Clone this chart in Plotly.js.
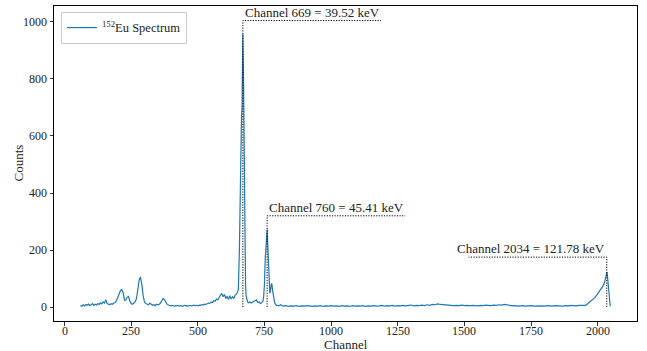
<!DOCTYPE html>
<html>
<head>
<meta charset="utf-8">
<script src="https://cdn.plot.ly/plotly-3.0.1.min.js"></script>
<style>html,body{margin:0;padding:0;background:#fff;}#chart{width:647px;height:351px;}</style>
</head>
<body>
<div id="chart"></div>
<script>
// Spectrum channels and counts
var channels = [
60,65,70,75,80,85,90,95,100,105,110,115,120,125,130,135,140,145,150,155,160,165,170,175,180,185,190,195,200,205,210,215,220,225,230,235,240,245,250,255,260,265,270,275,280,285,290,295,300,305,310,315,320,325,330,335,340,345,350,355,360,365,370,375,380,385,390,395,400,405,410,415,420,425,430,435,440,445,450,455,460,465,470,475,480,485,490,495,500,505,510,515,520,525,530,535,540,545,550,555,560,565,570,575,580,585,590,595,600,605,610,615,620,625,630,635,640,
645,648,652,656,659,662,664,666,668,669,671,673,675,677,679,681,684,687,690,695,700,705,710,715,720,725,730,735,740,744,747,750,753,756,758,760,762,764,766,768,770,772,774,776,778,780,782,785,788,792,796,800,805,810,815,
820,830,840,850,860,870,880,890,900,910,920,930,940,950,960,970,980,990,1000,1010,1020,1030,1040,1050,1060,1070,1080,1090,1100,1110,1120,1130,1140,1150,1160,1170,1180,1190,1200,1210,1220,1230,1240,1250,1260,1270,1280,1290,1300,1310,1320,1330,1340,1350,1360,1370,1380,1390,1400,1410,1420,1430,1440,1450,1460,1470,1480,1490,1500,1510,1520,1530,1540,1550,1560,1570,1580,1590,1600,1610,1620,1630,1640,1650,1660,1670,1680,1690,1700,1710,1720,1730,1740,1750,1760,1770,1780,1790,1800,1810,1820,1830,1840,1850,1860,1870,1880,1890,1900,1910,1920,1930,1940,
1950,1955,1960,1965,1970,1975,1980,1985,1990,1995,2000,2005,2010,2015,2020,2025,2029,2032,2035,2037,2039,2041,2043,2045,2047
];
var counts = [
5,3,8,4,9,6,10,5,8,12,6,10,7,12,9,15,11,18,14,26,12,10,8,12,10,14,16,22,35,48,58,61,50,24,25,34,37,22,12,10,14,18,30,62,95,105,80,40,18,12,10,8,14,10,6,8,5,10,8,10,14,22,30,26,16,10,7,5,4,6,3,5,4,6,3,5,4,3,6,4,5,3,6,4,5,7,5,6,4,7,6,8,7,10,9,12,14,13,18,16,22,20,28,25,35,42,48,36,44,30,38,26,40,28,36,30,42,
45,50,60,200,450,640,670,700,900,958,850,600,350,170,80,40,25,18,15,18,14,17,20,22,25,16,18,12,15,20,35,80,170,240,265,272,230,160,100,60,48,55,70,82,80,62,45,30,16,9,5,6,4,8,5,
3,5,2,4,3,5,2,4,3,5,3,2,4,3,5,2,4,3,5,3,4,2,5,3,4,2,5,3,4,3,5,2,4,3,5,3,4,6,3,5,4,6,3,5,4,6,4,5,7,4,6,5,7,5,8,6,9,8,11,9,8,7,6,7,5,6,5,7,5,6,4,6,5,4,6,5,7,6,5,7,6,8,7,9,7,5,4,5,3,4,5,3,4,5,3,4,5,4,3,5,4,3,5,4,5,3,5,4,6,5,4,6,5,
4,6,10,14,18,20,24,28,34,40,46,54,60,66,74,85,100,112,123,105,80,55,32,15,3
];
// Peak markers
var peakChannels = [669, 760, 2034];
var peakEnergies = ["39.52", "45.41", "121.78"];
var markerHeights = [1005, 320, 175];
var markerSpan = 518;
var markerLeftward = [false, false, true];
var xTicks = [0, 250, 500, 750, 1000, 1250, 1500, 1750, 2000];
var yTicks = [0, 200, 400, 600, 800, 1000];

var font = "Liberation Serif, Times New Roman, serif";
var traces = [{
  x: channels, y: counts, type: "scatter", mode: "lines",
  name: "<sup>152</sup>Eu Spectrum",
  line: {color: "#1f77b4", width: 1.2}
}];
var annotations = [];
for (var i = 0; i < peakChannels.length; i++) {
  var c = peakChannels[i], h = markerHeights[i];
  var x2 = markerLeftward[i] ? c - markerSpan : c + markerSpan;
  traces.push({
    x: [c, c, x2], y: [0, h, h], type: "scatter", mode: "lines",
    showlegend: false, hoverinfo: "skip",
    line: {color: "#000", width: 1, dash: "1.2px,1.4px"}
  });
  annotations.push({
    x: c, y: h, xref: "x", yref: "y",
    text: "Channel " + c + " = " + peakEnergies[i] + " keV",
    showarrow: false,
    xanchor: markerLeftward[i] ? "right" : "left",
    yanchor: "bottom", yshift: -1,
    font: {family: font, size: 13, color: "#222"}
  });
}
// X tick labels placed under the axis
xTicks.forEach(function (t) {
  annotations.push({
    x: t, y: 0, xref: "x", yref: "paper", xanchor: "center", yanchor: "middle",
    yshift: -9.5, height: 12, showarrow: false, text: String(t), borderpad: 0,
    font: {family: font, size: 12, color: "#222"}
  });
});
// Axis titles
annotations.push({
  x: 0.5, y: 0, xref: "paper", yref: "paper", xanchor: "center", yanchor: "middle",
  yshift: -23, height: 12, borderpad: 0, showarrow: false, text: "Channel",
  font: {family: font, size: 13, color: "#222"}
});
annotations.push({
  x: 0, y: 0.5, xref: "paper", yref: "paper", xanchor: "center", yanchor: "middle",
  xshift: -36, textangle: -90, showarrow: false, text: "Counts",
  font: {family: font, size: 13, color: "#222"}
});

var layout = {
  width: 647, height: 351,
  margin: {l: 54, r: 10, t: 6, b: 30},
  paper_bgcolor: "#fff", plot_bgcolor: "#fff",
  font: {family: font, size: 12, color: "#222"},
  showlegend: true,
  legend: {
    x: 0.012, y: 0.981, xanchor: "left", yanchor: "top",
    bgcolor: "rgba(255,255,255,0.8)", bordercolor: "#ccc", borderwidth: 1,
    font: {family: font, size: 12.5, color: "#222"}, itemwidth: 30
  },
  xaxis: {
    range: [-39.4, 2147.4], tickvals: xTicks, showticklabels: false,
    ticks: "outside", ticklen: 3.5, tickwidth: 0.8, tickcolor: "#000",
    showline: true, linecolor: "#000", linewidth: 1, mirror: true,
    showgrid: false, zeroline: false
  },
  yaxis: {
    range: [-49, 1056], tickvals: yTicks, ticktext: yTicks.map(String),
    ticks: "outside", ticklen: 3.5, tickwidth: 0.8, tickcolor: "#000",
    showline: true, linecolor: "#000", linewidth: 1, mirror: true,
    showgrid: false, zeroline: false,
    tickfont: {family: font, size: 12, color: "#222"}
  },
  annotations: annotations
};
Plotly.newPlot("chart", traces, layout, {displayModeBar: false, staticPlot: true});
</script>
</body>
</html>
